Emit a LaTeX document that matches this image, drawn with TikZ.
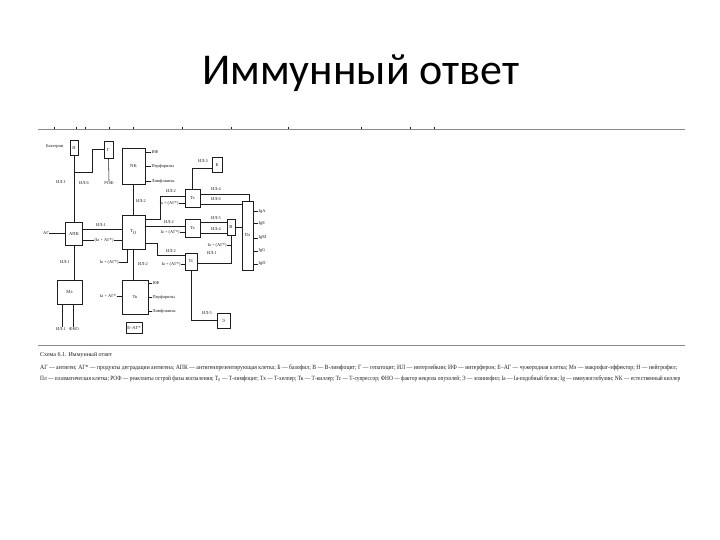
\documentclass[tikz,border=0pt]{standalone}
\usepackage{fontspec}
\setmainfont{Liberation Serif}
\newfontfamily\titlefont{Carlito}
\usetikzlibrary{calc}
\definecolor{ink}{HTML}{1E1E1E}
\definecolor{rulegray}{HTML}{8A8A8A}
\begin{document}
\begin{tikzpicture}[x=1pt,y=-1pt,
  box/.style={draw=ink, line width=0.55pt, inner sep=0pt, text=ink, font=\fontsize{4.6}{5}\selectfont},
  lbl/.style={text=ink, font=\fontsize{4.4}{4.8}\selectfont, inner sep=0.4pt},
  ln/.style={draw=ink, line width=0.55pt},
  tick/.style={draw=ink, line width=0.5pt},
]
\useasboundingbox (0,0) rectangle (720,540);
\fill[white] (0,0) rectangle (720,540);

% title
\node[anchor=base, text=black, font=\titlefont\fontsize{44}{50}\selectfont] (title) at (361,85) {Иммунный ответ};

% rules
\coordinate (r1a) at (38,129);
\coordinate (r1b) at (685,129);
\draw[rulegray, line width=0.7pt] (r1a) -- (r1b);
\foreach \t in {54,76,85,109,133,182,231,288,361,410,434} {\draw[tick] (\t,127) -- (\t,129.3);}
\coordinate (r2a) at (38,345);
\coordinate (r2b) at (685,345);
\draw[rulegray, line width=0.7pt] (r2a) -- (r2b);

% boxes
\node[box, minimum width=8pt, minimum height=15pt] (N) at (74,147.5) {Н};
\node[box, minimum width=9pt, minimum height=17pt] (G) at (108.5,149.5) {Г};
\node[box, minimum width=23pt, minimum height=36pt] (NK) at (133.5,166) {NK};
\node[box, minimum width=10pt, minimum height=15pt] (Bas) at (217,164.5) {Б};
\node[box, minimum width=17pt, minimum height=23pt] (APK) at (74,233.5) {АПК};
\node[box, minimum width=23pt, minimum height=34pt] (T0) at (133.5,232) {Т$_0$};
\node[box, minimum width=25pt, minimum height=24pt] (Me) at (69.5,292) {Мэ};
\node[box, minimum width=26pt, minimum height=34pt] (Tk) at (135,297) {Тк};
\node[box, minimum width=16pt, minimum height=11pt] (EAG) at (134,327.5) {Е–АГ*};
\node[box, minimum width=15pt, minimum height=18pt] (Tx1) at (192.5,198) {Тх};
\node[box, minimum width=15pt, minimum height=18pt] (Tx2) at (192.5,228) {Тх};
\node[box, minimum width=12pt, minimum height=17pt] (Tc) at (191,261.5) {Тс};
\node[box, minimum width=8pt, minimum height=16pt] (Bl) at (231,227) {В};
\node[box, minimum width=11pt, minimum height=69pt] (Pl) at (247.5,235.5) {Пл};
\node[box, minimum width=13pt, minimum height=15pt] (E) at (223.5,320.5) {Э};

% free labels
\node[lbl, anchor=east] (bact) at (64,147) {Бактерии};
\node[lbl] (AG) at (46,233) {АГ};
\node[lbl] (ROF) at (109,183) {РОФ};
\node[lbl] (il1a) at (61,182) {ИЛ-1};
\node[lbl] (il6a) at (84,183) {ИЛ-6};
\node[lbl] (il2n) at (141,201) {ИЛ-2};
\node[lbl] (il1b) at (101,225) {ИЛ-1};
\node[lbl] (il1m) at (65,262) {ИЛ-1};
\node[lbl] (il2k) at (143,264) {ИЛ-2};
\node[lbl] (iat0) at (109,262) {Ia + (АГ*)};
\node[lbl] (iatk) at (108,296) {Ia + АГ*};
\node[lbl] (me1) at (61,329) {ИЛ-1};
\node[lbl] (me2) at (74,329) {ФНО};

% APK connections
\draw[ln] (AG) -- (AG -| APK.west);
\draw[ln] (APK.north) -- (N.south);
\coordinate (j1) at (74,172);
\draw[ln] (j1) -- ++(18,0) |- (G.west);
\draw[ln] (G.south) -- (ROF.north);
\draw[ln] (APK.south) -- (APK.south |- Me.north);
\draw[ln] (APK.east |- 0,229) -- (T0.west |- 0,229);
\draw[ln] (APK.east |- 0,240) -- (T0.west |- 0,240);
\node[lbl, fill=white] (iaapk) at (104,240) {(Ia + АГ*)};
\draw[ln] (me1.north -| 62,0) -- (62,0 |- Me.south);
\draw[ln] (me2.north -| 73,0) -- (73,0 |- Me.south);

% NK outputs
\node[lbl, anchor=west] (nk1) at (151,152) {ИФ};
\node[lbl, anchor=west] (nk2) at (151,166.5) {Перфорины};
\node[lbl, anchor=west] (nk3) at (151,181) {Лимфокины};
\foreach \n in {nk1,nk2,nk3} {\draw[ln] (\n.west) -- (\n.west -| NK.east);}

% T0 connections
\draw[ln] (T0.north) -- (NK.south);
\draw[ln] (T0.south) -- (T0.south |- Tk.north);
\draw[ln] (iat0.east) -| (127,0 |- T0.south);
\draw[ln] (iatk.east) -- (iatk.east -| Tk.west);

% Tk outputs
\node[lbl, anchor=west] (tk1) at (152,283) {ИФ};
\node[lbl, anchor=west] (tk2) at (152,297) {Перфорины};
\node[lbl, anchor=west] (tk3) at (152,311) {Лимфокины};
\foreach \n in {tk1,tk2,tk3} {\draw[ln] (\n.west) -- (\n.west -| Tk.east);}

% T0 -> right boxes
\node[lbl] (il2a) at (171,191.5) {ИЛ-2};
\draw[ln] (T0.east |- 0,219) -- (160,219) |- (Tx1.west |- 0,196);
\node[lbl] (iax1) at (169,203) {Ia + (АГ*)};
\draw[ln] (iax1.east) -- (iax1.east -| Tx1.west);
\node[lbl] (il2b) at (169,222) {ИЛ-2};
\draw[ln] (T0.east |- 0,226) -- (Tx2.west |- 0,226);
\node[lbl] (iax2) at (170,232) {Ia + (АГ*)};
\draw[ln] (iax2.east) -- (iax2.east -| Tx2.west);
\node[lbl] (il2c) at (171,251) {ИЛ-2};
\draw[ln] (T0.east |- 0,243) -- (157,243) -- (157,255.5) -- (Tc.west |- 0,255.5);
\node[lbl] (iatc) at (171,264) {Ia + (АГ*)};
\draw[ln] (iatc.east) -- (iatc.east -| Tc.west);

% Tx1 outputs
\node[lbl] (il3) at (203,161) {ИЛ-3};
\draw[ln] (Tx1.north) |- (Bas.west |- 0,168);
\node[lbl] (il4a) at (216,189.5) {ИЛ-4};
\draw[ln] (Tx1.east |- 0,194) -| ($(Pl.north)+(1.5,0)$);
\node[lbl] (il6b) at (216,199.5) {ИЛ-6};
\draw[ln] (Tx1.east |- 0,204) -- (Pl.west |- 0,204);

% Tx2 outputs
\node[lbl] (il5a) at (216,218.5) {ИЛ-5};
\draw[ln] (Tx2.east |- 0,222.5) -- (Bl.west |- 0,222.5);
\node[lbl] (il4b) at (216,229) {ИЛ-4};
\draw[ln] (Tx2.east |- 0,233) -- (Bl.west |- 0,233);
\draw[ln] (Bl.east) -- (Bl.east -| Pl.west);

% Tc outputs
\draw[ln] (Tc.east |- 0,263) -| (Bl.south);
\node[lbl] (iab) at (217,245) {Ia + (АГ*)};
\draw[ln] (iab.east) -- (iab.east -| Bl.south);
\node[lbl] (il1c) at (212,253) {ИЛ-1};
\node[lbl] (il5b) at (207,313.5) {ИЛ-5};
\draw[ln] (Tc.south) |- (E.west);

% Pl outputs
\node[lbl, anchor=west] (ig1) at (258,211.5) {IgA};
\node[lbl, anchor=west] (ig2) at (258,223.5) {IgE};
\node[lbl, anchor=west] (ig3) at (258,238) {IgM};
\node[lbl, anchor=west] (ig4) at (258,251) {IgG};
\node[lbl, anchor=west] (ig5) at (258,264) {IgD};
\foreach \n in {ig1,ig2,ig3,ig4,ig5} {\draw[ln] (\n.west) -- (\n.west -| Pl.east);}

% caption and legend
\node[anchor=west, inner sep=0pt, text=ink, font=\fontsize{6}{7}\selectfont] (cap) at (40,355) {Схема 6.1. Иммунный ответ};
\node[anchor=west, inner sep=0pt, text=ink] (leg1) at (40,368) {\resizebox{637pt}{4.6pt}{АГ — антиген; АГ* — продукты деградации антигена; АПК — антигенпрезентирующая клетка; Б — базофил; В — В-лимфоцит; Г — гепатоцит; ИЛ — интерлейкин; ИФ — интерферон; Е–АГ — чужеродная клетка; Мэ — макрофаг-эффектор; Н — нейтрофил;}};
\node[anchor=west, inner sep=0pt, text=ink] (leg2) at (40,379) {\resizebox{640pt}{4.6pt}{Пл — плазматическая клетка; РОФ — реактанты острой фазы воспаления; Т$_0$ — Т-лимфоцит; Тх — Т-хелпер; Тк — Т-киллер; Тс — Т-супрессор; ФНО — фактор некроза опухолей; Э — эозинофил; Ia — Ia-подобный белок; Ig — иммуноглобулин; NK — естественный киллер}};
\end{tikzpicture}
\end{document}
